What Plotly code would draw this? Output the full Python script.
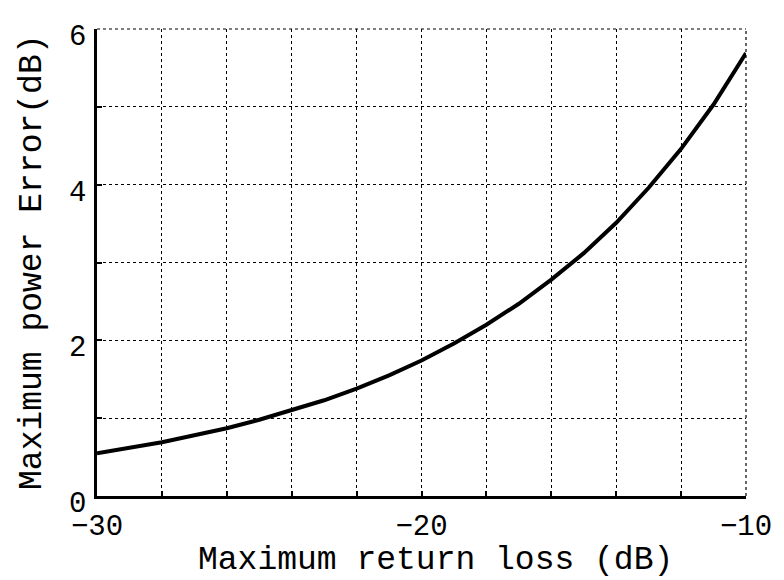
import plotly.graph_objects as go

return_loss_db = [-30, -29, -28, -27, -26, -25, -24, -23, -22, -21, -20,
                  -19, -18, -17, -16, -15, -14, -13, -12, -11, -10]
power_error_db = [0.55, 0.62, 0.69, 0.78, 0.87, 0.98, 1.10, 1.23, 1.38, 1.55, 1.74,
                  1.96, 2.20, 2.47, 2.78, 3.12, 3.51, 3.96, 4.46, 5.03, 5.69]

x_ticks = [-30, -20, -10]
y_ticks = [0, 2, 4, 6]

FONT = "Courier New, Courier, FreeMono, Liberation Mono, monospace"

fig = go.Figure()
fig.add_trace(go.Scatter(x=return_loss_db, y=power_error_db, mode="lines",
                         line=dict(color="black", width=4), showlegend=False))

axis_common = dict(
    showline=True, linecolor="black", linewidth=2.5,
    showgrid=True, gridcolor="black", griddash="dot", gridwidth=1.2,
    zeroline=False, ticks="inside", ticklen=5, tickwidth=2, tickcolor="black",
    tickfont=dict(family=FONT, size=29, color="black"),
)

fig.update_xaxes(range=[-30, -10], tickvals=x_ticks, ticklabelstandoff=1,
                 minor=dict(dtick=2, showgrid=True, gridcolor="black", griddash="dot",
                            gridwidth=1.2, ticks="inside", ticklen=5, tickwidth=1.5,
                            tickcolor="black"),
                 **axis_common)
fig.update_yaxes(range=[0, 6], tickvals=y_ticks, ticklabelshift=6, ticklabelstandoff=2,
                 minor=dict(dtick=1, showgrid=True, gridcolor="black", griddash="dot",
                            gridwidth=1.2, ticks="inside", ticklen=5, tickwidth=1.5,
                            tickcolor="black"),
                 **axis_common)

# dotted frame on the top and right edges (grid lines at the range ends)
fig.add_shape(type="line", xref="paper", yref="paper", x0=0, x1=1, y0=1, y1=1,
              line=dict(color="black", width=1.2, dash="dot"))
fig.add_shape(type="line", xref="paper", yref="paper", x0=1, x1=1, y0=0, y1=1,
              line=dict(color="black", width=1.2, dash="dot"))

fig.add_annotation(text="Maximum return loss (dB)", xref="paper", yref="paper",
                   x=0.521, y=-0.139, xanchor="center", yanchor="middle",
                   showarrow=False, font=dict(family=FONT, size=33, color="black"))
fig.add_annotation(text="Maximum power Error(dB)", xref="paper", yref="paper",
                   x=-0.0986, y=0.499, xanchor="center", yanchor="middle", textangle=-90,
                   showarrow=False, font=dict(family=FONT, size=33, color="black"))

# the page body adds an 8px offset, so the figure is sized to compensate
fig.update_layout(width=776, height=572, margin=dict(l=89, r=30, t=21, b=84),
                  plot_bgcolor="white", paper_bgcolor="white")

fig.write_html("out.html")
